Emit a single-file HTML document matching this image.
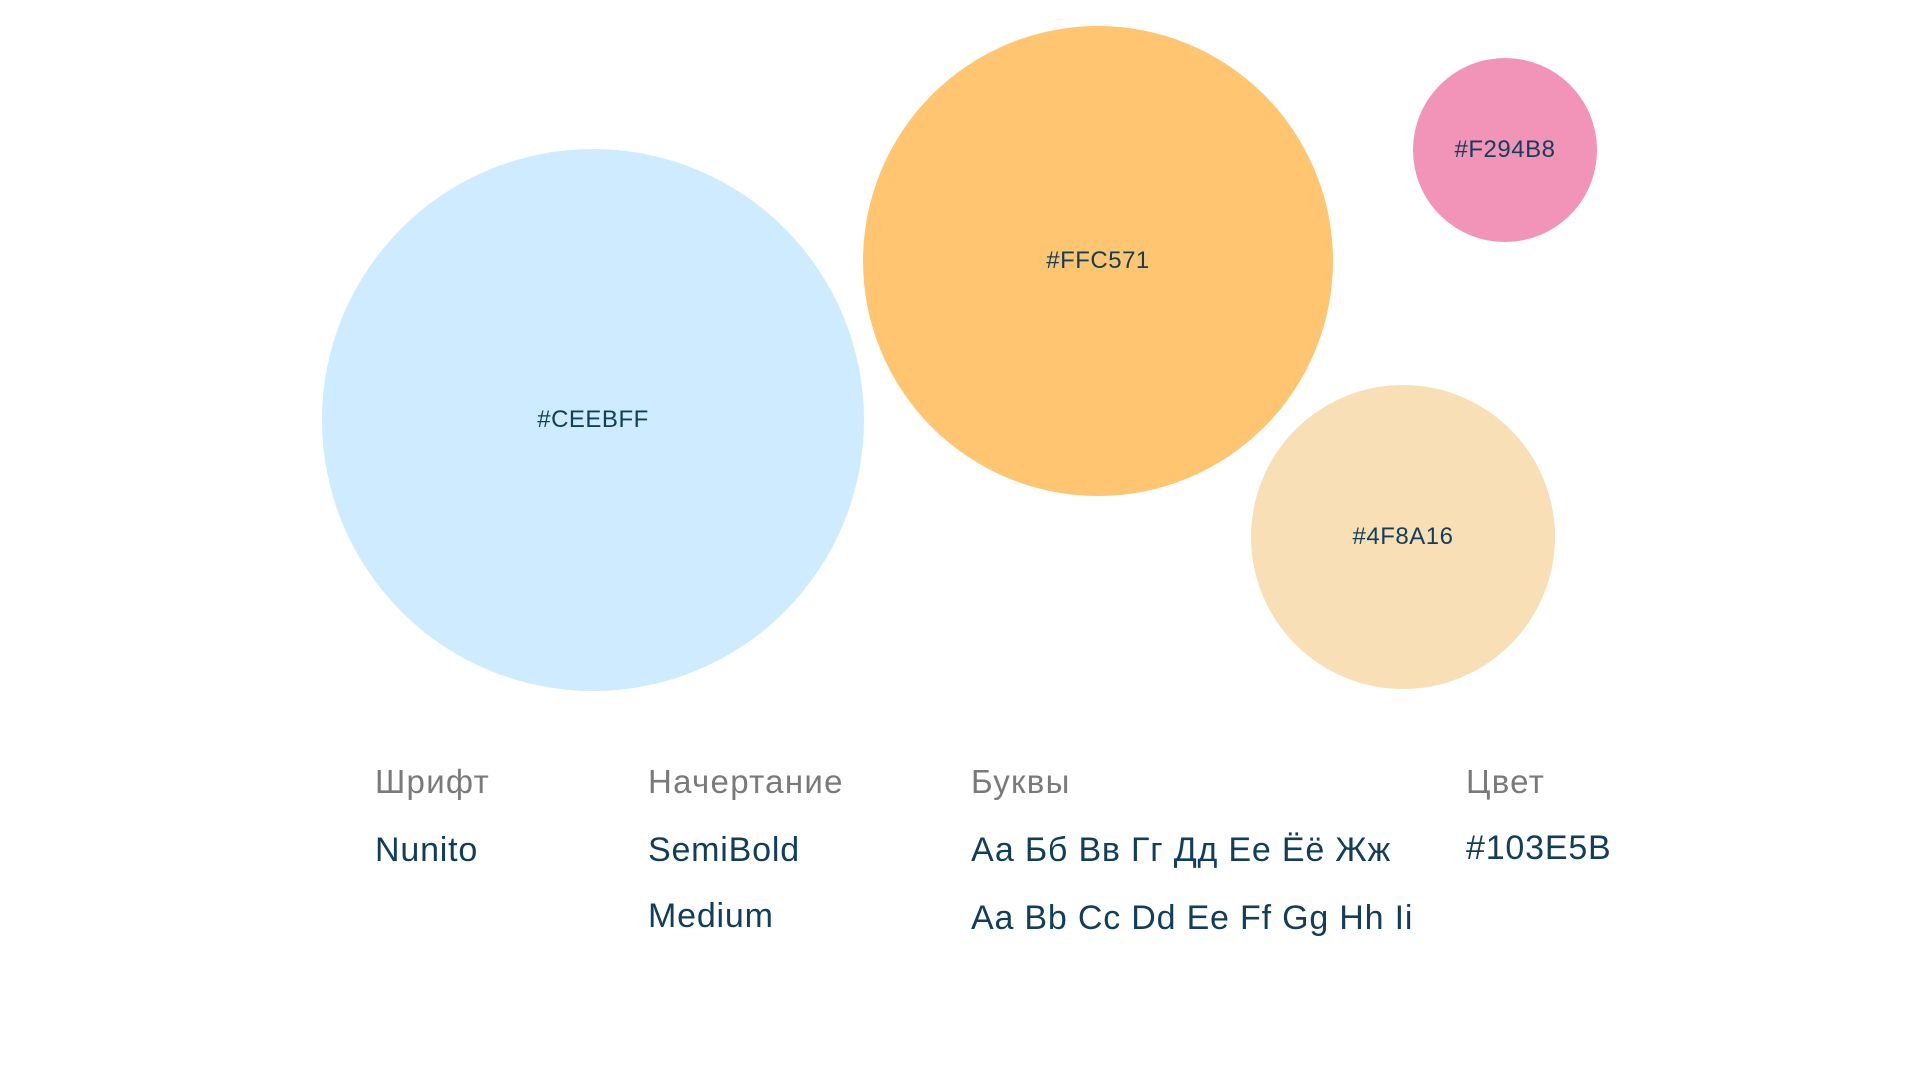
<!DOCTYPE html>
<html><head><meta charset="utf-8"><style>
html,body{margin:0;padding:0;background:#fff;width:1920px;height:1080px;overflow:hidden}
body{position:relative;font-family:"Liberation Sans","DejaVu Sans",sans-serif;color:#103E5B}
.c{position:absolute;border-radius:50%;display:flex;align-items:center;justify-content:center;font-size:24px;color:#103E5B;letter-spacing:0.5px}
.t{position:absolute;white-space:nowrap;line-height:1}
.h{color:#7a7a7a;font-size:33px;letter-spacing:1.3px}
.v{font-size:34px;color:#103E5B;letter-spacing:0.8px}
</style></head><body>
<div class="c" style="left:322px;top:149px;width:542px;height:542px;background:#CEEBFF">#CEEBFF</div>
<div class="c" style="left:863px;top:26px;width:470px;height:470px;background:#FFC571">#FFC571</div>
<div class="c" style="left:1413px;top:58px;width:184px;height:184px;background:#F294B8">#F294B8</div>
<div class="c" style="left:1251px;top:385px;width:304px;height:304px;background:#F8DFB5">#4F8A16</div>

<div class="t h" style="left:375px;top:765px">Шрифт</div>
<div class="t h" style="left:648px;top:765px">Начертание</div>
<div class="t h" style="left:971px;top:765px">Буквы</div>
<div class="t h" style="left:1466px;top:765px">Цвет</div>

<div class="t v" style="left:375px;top:833px">Nunito</div>
<div class="t v" style="left:648px;top:833px">SemiBold</div>
<div class="t v" style="left:648px;top:899px">Medium</div>
<div class="t v" style="left:971px;top:833px">Аа Бб Вв Гг Дд Ее Ёё Жж</div>
<div class="t v" style="left:971px;top:901px">Aa Bb Cc Dd Ee Ff Gg Hh Ii</div>
<div class="t v" style="left:1466px;top:831px">#103E5B</div>
</body></html>
